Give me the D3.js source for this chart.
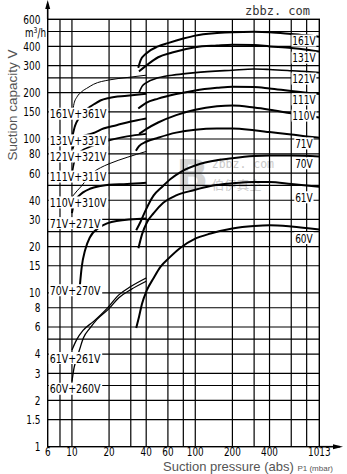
<!DOCTYPE html>
<html><head><meta charset="utf-8">
<script src="https://cdn.jsdelivr.net/npm/d3@7/dist/d3.min.js"></script>
<style>
body{margin:0;background:#fff}
svg{display:block}
.nar{font-family:"DejaVu Sans Condensed","DejaVu Sans",sans-serif}
</style></head><body>
<svg id="c" width="347" height="474"></svg>
<script>
// ---------- axis data ----------
const xAxisStart = 6.36, xAxisEnd = 1013;
const yAxisStart = 1, yAxisEnd = 600;
const xGrid = [8,10,20,30,40,60,80,100,200,300,400,600,800];
const xTickValues = [6.36,10,20,40,60,100,200,400,1013];
const xTickLabels = ["6","10","20","40","60","100","200","400","1013"];
const yGrid = [1.5,2,2.5,3,4,5,6,8,10,15,20,25,30,40,50,60,80,100,150,200,250,300,400,500];
const yTickValues = [600,400,300,200,150,100,80,60,40,30,20,15,10,8,6,4,3,2,1.5,1];
const yTickLabels = ["600","400","300","200","150","100","80","60","40","30","20","15","10","8","6","4","3","2","1.5","1"];

// ---------- single pump curves (mbar, m3/h) ----------
const singleNames = ["161V","131V","121V","111V","110V","71V","70V","61V","60V"];
const s161V = [[34.5,290],[36,325],[40,360],[50,400],[60,420],[80,450],[100,470],[150,488],[200,495],[300,498],[400,495],[600,482],[800,472],[1013,462]];
const s131V = [[35,275],[40,300],[50,340],[65,365],[100,395],[150,405],[200,410],[300,408],[400,400],[600,390],[800,380],[1013,370]];
const s121V = [[35,200],[37,220],[40,232],[50,250],[70,262],[100,270],[200,280],[300,285],[400,283],[600,278],[800,274],[1013,270]];
const s111V = [[34.5,158],[40,172],[50,183],[70,196],[100,207],[150,215],[200,219],[300,218],[400,213],[600,205],[800,200],[1013,196]];
const s110V = [[35,108],[40,116],[50,128],[70,143],[100,155],[150,163],[200,165],[300,160],[400,155],[600,147],[800,142],[1013,138]];
const s71V  = [[33,84],[35,90],[40,96],[50,102],[70,110],[100,115],[150,117],[200,117],[300,114],[400,111],[600,107],[800,104],[1013,102]];
const s70V  = [[33.2,25.5],[36,29],[39.3,34],[46,43],[54,49],[63,55],[76,61],[110,69],[200,75],[300,77.5],[400,78],[600,78],[1013,77]];
const s61V  = [[34.6,19.5],[37,24],[40.6,28.8],[46,33],[55,38.5],[70,43],[97,46.5],[133,49.5],[200,51.5],[300,52.5],[400,52.5],[600,51],[1013,49]];
const s60V  = [[33.2,5.9],[35,7],[37,8.5],[40.5,10.4],[46,12.5],[52,14.7],[62,17],[75,19.5],[100,22.5],[133,24.3],[200,26.2],[300,27.2],[400,27.5],[600,27],[1013,25.8]];
const singleSeries = [s161V,s131V,s121V,s111V,s110V,s71V,s70V,s61V,s60V];
const singleWidths = [2,2,1.6,2,2,2,2,2,2];

// ---------- combination curves (mbar, m3/h) ----------
const comboNames = ["161V+361V","131V+331V","121V+321V","111V+311V","110V+310V","71V+271V","70V+270V","61V+261V","60V+260V"];
const c161 = [[10.1,150],[10.4,170],[11,188],[12,203],[13.5,216],[15,227],[20,242],[28,251],[40,260]];
const c131 = [[10.1,105],[10.6,122],[11.4,137],[12.5,150],[14,162],[15.4,170],[17,178],[20,185],[28,191],[40,197]];
const c121 = [[10.1,86],[10.6,96],[11.5,102],[13,106],[14.8,109],[18,117],[23,123],[30,130],[40,136]];
const c111 = [[10.1,62],[10.4,70],[11,78],[12,84],[14,89],[17,94],[20,98],[28,104],[40,108]];
const c110 = [[10,42],[11,46],[12.1,50],[13.5,56],[15,61],[17,65],[20,69],[28,76],[40,83]];
const c71  = [[10,33],[10.2,36],[10.7,40],[11.5,43],[12.3,45],[14,47.5],[17,49.5],[20,50.5],[28,51],[40,52]];
const c70  = [[11.6,11.2],[12,14.7],[12.8,19],[14,23],[16.9,26.8],[23,29.3],[40,30.4]];
const c61  = [[10,4.25],[10.9,4.95],[12.3,5.7],[14.9,6.5],[19.2,7.9],[24,9.7],[30,11],[40,12.5]];
const c60  = [[10,2.65],[10.4,3.25],[11,3.8],[11.5,4.25],[12.4,5.1],[14,5.9],[15.9,6.7],[20,7.9],[24,9.3],[30,10.5],[40,11.9]];
const comboSeries = [c161,c131,c121,c111,c110,c71,c70,c61,c60];
const comboWidths = [1,2,2,1.6,1,2,2,1.3,1.3];

// ---------- label anchors (data units) ----------
const comboLabelY = [146,98,77,57,38.7,28.4,10.4,3.77,2.38];
const singleLabelX = 760;
const singleLabelY = [436,338,247,181,142,93.6,69.5,41.8,22.7];
const watermarkPos = [[70,46.6],[136,65],[136,46.5]];

// ---------- scales ----------
const svg = d3.select("#c");
const x = d3.scaleLog().domain([xAxisStart, xAxisEnd]).range([47.7, 319.3]);
const y = d3.scaleLog().domain([yAxisStart, yAxisEnd]).range([446.7, 19.3]);
const [X0, X1] = x.range(); const [Y0, Y1] = y.range();

// watermark in the middle (behind everything)
svg.append("text").attr("x", x(watermarkPos[0][0])).attr("y", y(watermarkPos[0][1])).attr("fill", "#d4d4d4")
  .attr("font-family", "DejaVu Sans").attr("font-weight", "bold").attr("font-size", 42).text("B");
svg.append("text").attr("x", x(watermarkPos[1][0])).attr("y", y(watermarkPos[1][1])).attr("fill", "#c9c9c9")
  .attr("font-family", "DejaVu Sans Mono").attr("font-size", 11.5).text("zbbz. com");
svg.append("text").attr("x", x(watermarkPos[2][0])).attr("y", y(watermarkPos[2][1])).attr("fill", "#c9c9c9")
  .attr("font-family", "Noto Sans CJK SC").attr("font-size", 12.5).text("伯伊真空");

// grid
const g = svg.append("g");
g.selectAll(".vx").data(xGrid).join("line")
  .attr("x1", d => x(d)).attr("x2", d => x(d)).attr("y1", Y0).attr("y2", Y1)
  .attr("stroke", "#000").attr("stroke-width", 1.2);
g.selectAll(".hy").data(yGrid).join("line")
  .attr("x1", X0).attr("x2", X1).attr("y1", d => y(d)).attr("y2", d => y(d))
  .attr("stroke", "#000").attr("stroke-width", 1.2);
g.append("rect").attr("x", X0).attr("y", Y1).attr("width", X1 - X0).attr("height", Y0 - Y1)
  .attr("fill", "none").attr("stroke", "#000").attr("stroke-width", 1.4);

// curves
const line = d3.line().x(d => x(d[0])).y(d => y(d[1])).curve(d3.curveMonotoneX);
svg.append("g").selectAll("path").data(singleSeries).join("path")
  .attr("d", line).attr("fill", "none").attr("stroke", "#000")
  .attr("stroke-width", (d, i) => singleWidths[i]);
svg.append("g").selectAll("path").data(comboSeries).join("path")
  .attr("d", line).attr("fill", "none").attr("stroke", "#000")
  .attr("stroke-width", (d, i) => comboWidths[i]);

// labels with white background (narrowed glyphs)
function boxLabel(px, py, txt, anchor, sx) {
  const gg = svg.append("g").attr("transform", `translate(${px},${py}) scale(${sx},1)`);
  const t = gg.append("text").attr("class", "nar").attr("x", 0).attr("y", 4.6)
    .attr("font-size", 12.5).attr("text-anchor", anchor).text(txt);
  const b = t.node().getBBox();
  gg.insert("rect", () => t.node()).attr("x", b.x - 1).attr("y", -6)
    .attr("width", b.width + 2).attr("height", 12).attr("fill", "#fff");
}
comboNames.forEach((n, i) => boxLabel(X0 + 2, y(comboLabelY[i]), n, "start", 0.84));
singleNames.forEach((n, i) => boxLabel(x(singleLabelX), y(singleLabelY[i]), n, "middle", 0.8));

// axis arrows
svg.append("line").attr("x1", X0).attr("x2", X0).attr("y1", Y1).attr("y2", 4).attr("stroke", "#000").attr("stroke-width", 1.6);
svg.append("path").attr("d", `M${X0-2.5},9 L${X0},0 L${X0+2.5},9 Z`).attr("fill", "#000");
svg.append("line").attr("x1", X1).attr("x2", 340).attr("y1", Y0).attr("y2", Y0).attr("stroke", "#000").attr("stroke-width", 1.6);
svg.append("path").attr("d", `M333,${Y0-2.5} L343,${Y0} L333,${Y0+2.5} Z`).attr("fill", "#000");

// tick labels
svg.append("g").selectAll("g").data(yTickValues).join("g")
  .attr("transform", d => `translate(40.5,${y(d) + 4.4}) scale(0.8,1)`)
  .append("text").attr("class", "nar").attr("text-anchor", "end")
  .attr("font-size", 12.5).text((d, i) => yTickLabels[i]);
svg.append("g").selectAll("g").data(xTickValues).join("g")
  .attr("transform", d => `translate(${x(d)},455.5) scale(0.82,1)`)
  .append("text").attr("class", "nar").attr("text-anchor", "middle")
  .attr("font-size", 12).text((d, i) => xTickLabels[i]);

// unit
const u = svg.append("text").attr("class", "nar").attr("transform", "translate(46,36.5) scale(0.85,1)")
  .attr("text-anchor", "end").attr("font-size", 11.5);
u.append("tspan").text("m");
u.append("tspan").attr("dy", -3.5).attr("font-size", 8).text("3");
u.append("tspan").attr("dy", 3.5).text("/h");

// axis titles
svg.append("text").attr("transform", "translate(17,105) rotate(-90)").attr("text-anchor", "middle")
  .attr("font-family", "Liberation Sans, Arial, sans-serif").attr("font-size", 13.5).attr("fill", "#555")
  .text("Suction capacity V");
const xt = svg.append("text").attr("x", 163).attr("y", 470.5).attr("font-family", "Liberation Sans, Arial, sans-serif")
  .attr("fill", "#555").attr("font-size", 13);
xt.append("tspan").text("Suction pressure (abs) ");
xt.append("tspan").attr("font-size", 8).text("P1 (mbar)");

// top-right site mark
svg.append("text").attr("x", 245).attr("y", 15).attr("font-family", "DejaVu Sans Mono")
  .attr("font-size", 12).attr("fill", "#333").text("zbbz. com");
</script>
</body></html>
